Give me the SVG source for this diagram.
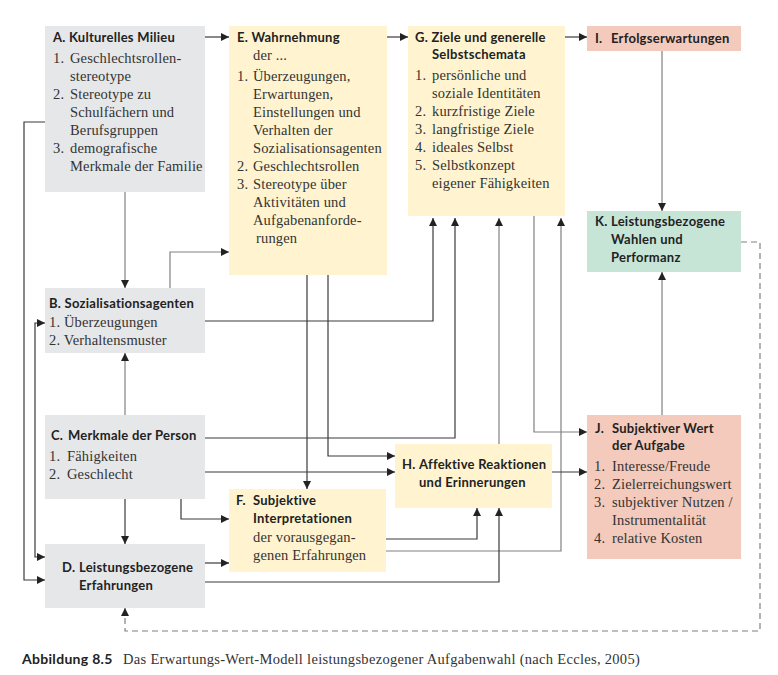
<svg xmlns="http://www.w3.org/2000/svg" width="778" height="675" viewBox="0 0 778 675">
<defs>
<style>
.t{font-family:Lato,"Open Sans",sans-serif;font-weight:bold;font-size:13px;letter-spacing:0.25px;fill:#222}
.b{font-family:"Liberation Serif",serif;font-size:14.5px;letter-spacing:0.15px;fill:#333}
.gray{fill:#e6e7e8}.yel{fill:#fff4cf}.sal{fill:#f3cabb}.grn{fill:#c7e5d6}
.c path{fill:none;stroke:#3a3a3a;stroke-width:1.2;marker-end:url(#ah)}
.c path.l{stroke:#808080}
.c path.d{stroke:#808080;stroke-dasharray:6 4}
</style>
<marker id="ah" markerUnits="userSpaceOnUse" markerWidth="8" markerHeight="8" refX="8" refY="4" orient="auto"><path d="M0,0 L8,4 L0,8 z" fill="#222"/></marker>
<marker id="as" markerUnits="userSpaceOnUse" markerWidth="8" markerHeight="8" refX="8" refY="4" orient="auto-start-reverse"><path d="M0,0 L8,4 L0,8 z" fill="#222"/></marker>
</defs>
<rect width="778" height="675" fill="#fff"/>

<g id="A">
<rect class="gray" x="45" y="26" width="160" height="166"/>
<text class="t" x="53" y="42">A. Kulturelles Milieu</text>
<text class="b" x="53" y="63">1.</text><text class="b" x="70" y="63">Geschlechtsrollen-</text>
<text class="b" x="70" y="81">stereotype</text>
<text class="b" x="53" y="99">2.</text><text class="b" x="70" y="99">Stereotype zu</text>
<text class="b" x="70" y="117">Schulfächern und</text>
<text class="b" x="70" y="135">Berufsgruppen</text>
<text class="b" x="53" y="153">3.</text><text class="b" x="70" y="153">demografische</text>
<text class="b" x="70" y="171">Merkmale der Familie</text>
</g>

<g id="E">
<rect class="yel" x="229" y="26" width="158" height="249"/>
<text class="t" x="237" y="42">E. Wahrnehmung</text>
<text class="b" x="253" y="60">der ...</text>
<text class="b" x="237" y="81">1.</text><text class="b" x="253" y="81">Überzeugungen,</text>
<text class="b" x="253" y="99">Erwartungen,</text>
<text class="b" x="253" y="117">Einstellungen und</text>
<text class="b" x="253" y="135">Verhalten der</text>
<text class="b" x="253" y="153">Sozialisationsagenten</text>
<text class="b" x="237" y="171">2.</text><text class="b" x="253" y="171">Geschlechtsrollen</text>
<text class="b" x="237" y="189">3.</text><text class="b" x="253" y="189">Stereotype über</text>
<text class="b" x="253" y="207">Aktivitäten und</text>
<text class="b" x="253" y="225">Aufgabenanforde-</text>
<text class="b" x="256" y="243">rungen</text>
</g>

<g id="G">
<rect class="yel" x="408" y="26" width="157" height="190"/>
<text class="t" x="415" y="42">G. Ziele und generelle</text>
<text class="t" x="432" y="59">Selbstschemata</text>
<text class="b" x="415" y="80">1.</text><text class="b" x="432" y="80">persönliche und</text>
<text class="b" x="432" y="98">soziale Identitäten</text>
<text class="b" x="415" y="116">2.</text><text class="b" x="432" y="116">kurzfristige Ziele</text>
<text class="b" x="415" y="134">3.</text><text class="b" x="432" y="134">langfristige Ziele</text>
<text class="b" x="415" y="152">4.</text><text class="b" x="432" y="152">ideales Selbst</text>
<text class="b" x="415" y="170">5.</text><text class="b" x="432" y="170">Selbstkonzept</text>
<text class="b" x="432" y="188">eigener Fähigkeiten</text>
</g>

<g id="I">
<rect class="sal" x="587" y="26" width="154" height="25"/>
<text class="t" x="595" y="43">I.</text><text class="t" x="611" y="43">Erfolgserwartungen</text>
</g>

<g id="K">
<rect class="grn" x="587" y="211" width="154" height="61"/>
<text class="t" x="595" y="226">K.</text><text class="t" x="611" y="226">Leistungsbezogene</text>
<text class="t" x="611" y="244">Wahlen und</text>
<text class="t" x="611" y="262">Performanz</text>
</g>

<g id="B">
<rect class="gray" x="45" y="288" width="160" height="65"/>
<text class="t" x="49" y="308">B. Sozialisationsagenten</text>
<text class="b" x="49" y="327">1. Überzeugungen</text>
<text class="b" x="49" y="345">2. Verhaltensmuster</text>
</g>

<g id="C">
<rect class="gray" x="45" y="415" width="160" height="84"/>
<text class="t" x="51" y="440">C.</text><text class="t" x="68" y="440">Merkmale der Person</text>
<text class="b" x="49" y="461">1.</text><text class="b" x="67" y="461">Fähigkeiten</text>
<text class="b" x="49" y="479">2.</text><text class="b" x="67" y="479">Geschlecht</text>
</g>

<g id="D">
<rect class="gray" x="45" y="544" width="160" height="64"/>
<text class="t" x="62" y="572">D.</text><text class="t" x="79" y="572">Leistungsbezogene</text>
<text class="t" x="79" y="590">Erfahrungen</text>
</g>

<g id="F">
<rect class="yel" x="229" y="489" width="157" height="83"/>
<text class="t" x="236" y="505">F.</text><text class="t" x="253" y="505">Subjektive</text>
<text class="t" x="253" y="523">Interpretationen</text>
<text class="b" x="253" y="542">der vorausgegan-</text>
<text class="b" x="253" y="560">genen Erfahrungen</text>
</g>

<g id="H">
<rect class="yel" x="395" y="444" width="157" height="64"/>
<text class="t" x="402" y="469">H.</text><text class="t" x="419" y="469">Affektive Reaktionen</text>
<text class="t" x="419" y="487">und Erinnerungen</text>
</g>

<g id="J">
<rect class="sal" x="587" y="415" width="154" height="144"/>
<text class="t" x="595" y="433">J.</text><text class="t" x="612" y="433">Subjektiver Wert</text>
<text class="t" x="612" y="450">der Aufgabe</text>
<text class="b" x="594" y="471">1.</text><text class="b" x="612" y="471">Interesse/Freude</text>
<text class="b" x="594" y="489">2.</text><text class="b" x="612" y="489">Zielerreichungswert</text>
<text class="b" x="594" y="507">3.</text><text class="b" x="612" y="507">subjektiver Nutzen /</text>
<text class="b" x="612" y="525">Instrumentalität</text>
<text class="b" x="594" y="543">4.</text><text class="b" x="612" y="543">relative Kosten</text>
</g>

<g id="connectors" class="c">
<path d="M205,37 H229"/>
<path d="M387,37 H408"/>
<path d="M565,37 H587"/>
<path class="l" d="M662,51 V211"/>
<path class="l" d="M125,192 V288"/>
<path class="l" d="M170,288 V252 H229"/>
<path d="M45,122 H24 V580 H45"/>
<path d="M45,323 H35 V557 H45" marker-start="url(#as)"/>
<path d="M205,321 H433 V218"/>
<path d="M205,438 H455 V218"/>
<path class="l" d="M125,415 V353"/>
<path d="M125,499 V544"/>
<path d="M205,472 H395"/>
<path d="M328,275 V456 H395"/>
<path d="M307,275 V489"/>
<path d="M181,499 V519 H229"/>
<path d="M205,563 H229"/>
<path d="M386,539 H477 V508"/>
<path class="l" d="M386,551 H561 V218"/>
<path d="M205,582 H499 V508"/>
<path class="l" d="M499,444 V218"/>
<path class="l" d="M534,216 V432 H587"/>
<path d="M552,472 H587"/>
<path class="l" d="M662,415 V272"/>
<path class="d" d="M741,242 H760 V631 H125 V608"/>
</g>

<g id="caption">
<text class="t" x="22" y="664" style="font-size:14px;letter-spacing:0.3px">Abbildung 8.5</text>
<text class="b" x="123" y="664" style="font-size:14.5px;letter-spacing:0.3px">Das Erwartungs-Wert-Modell leistungsbezogener Aufgabenwahl (nach Eccles, 2005)</text>
</g>
</svg>
